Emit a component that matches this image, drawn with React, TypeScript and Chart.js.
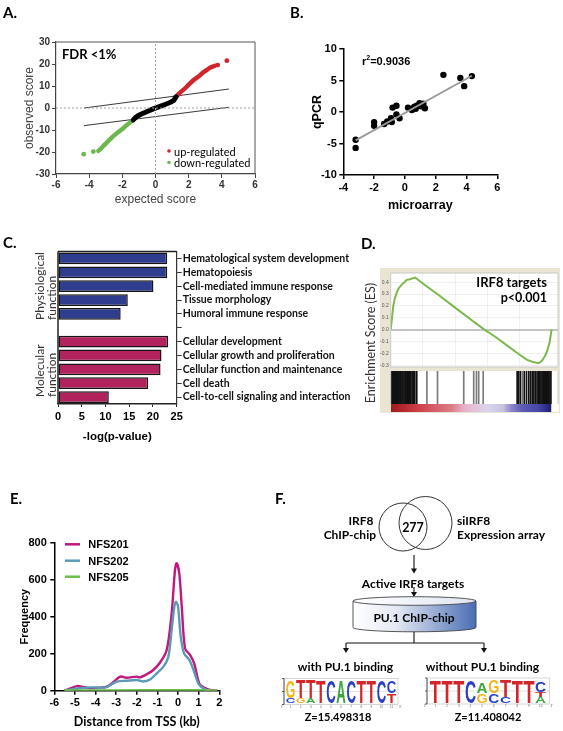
import React, { useEffect, useRef } from 'react';
import { Chart, registerables } from 'chart.js';

Chart.register(...registerables);

// ---------------- DATA ----------------
// A. Q-Q plot (expected score, observed score)
const qqUnchanged = [[-1.34, -5.4], [-1.2, -4.3], [-1.05, -3.5], [-0.85, -2.7], [-0.6, -1.9], [-0.35, -1.1], [-0.1, -0.3], [0.15, 0.4], [0.4, 1.1], [0.65, 1.8], [0.9, 2.6], [1.1, 3.5], [1.24, 5.1]];
const qqUp = [[1.24, 5.1], [1.4, 6.4], [1.6, 7.8], [1.78, 8.9], [2.0, 10.6], [2.28, 12.6], [2.5, 13.8], [2.7, 15.0], [2.88, 16.2], [3.1, 17.3], [3.28, 18.3], [3.45, 18.8], [3.58, 19.2]];
const qqUpSparse = [[3.75, 19.5], [4.3, 21.5]];
const qqDown = [[-1.34, -5.4], [-1.6, -7.0], [-1.8, -8.2], [-2.0, -9.6], [-2.3, -11.3], [-2.58, -13.0], [-2.8, -14.6], [-3.0, -16.2], [-3.15, -17.3], [-3.3, -18.6], [-3.45, -19.5]];
const qqDownSparse = [[-3.75, -19.8], [-4.33, -21.0]];
const deltaUpper = [[-4.3, 0], [4.4, 8.6]];
const deltaLower = [[-4.3, -8.0], [4.4, 0.3]];
const zeroH = [[-6, 0], [6, 0]];
const zeroV = [[0, -30], [0, 30]];

// B. qPCR vs microarray
const microarray = [-3.2, -3.2, -2.0, -2.0, -1.35, -1.15, -0.9, -0.85, -0.8, -0.55, -0.55, -0.35, 0.2, 0.45, 0.6, 0.7, 0.75, 0.95, 1.05, 1.2, 1.3, 2.5, 3.6, 3.85, 4.35];
const qpcr = [-4.4, -5.7, -1.6, -2.2, -1.9, -1.5, -1.0, -1.6, 0.7, 1.0, -0.4, -1.0, 0.7, 0.3, 0.8, 0.5, 1.0, 1.4, 0.9, 1.3, 0.6, 5.9, 5.4, 4.1, 5.7];
const fitLine = [[-3.2, -4.5], [4.35, 5.75]];

// C. Functional categories
const goTerms = ['Hematological system development', 'Hematopoiesis', 'Cell-mediated immune response', 'Tissue morphology', 'Humoral immune response', '', 'Cellular development', 'Cellular growth and proliferation', 'Cellular function and maintenance', 'Cell death', 'Cell-to-cell signaling and interaction'];
const goScores = [23.0, 23.0, 20.1, 14.7, 13.2, null, 23.2, 21.8, 21.6, 19.0, 10.7];
const goGroup = ['phys', 'phys', 'phys', 'phys', 'phys', '', 'mol', 'mol', 'mol', 'mol', 'mol'];

// D. GSEA running enrichment score (rank %, ES)
const esRank = [0, 0.8, 1.6, 2.5, 3.7, 5, 6.9, 8.5, 10, 12, 14, 15.2, 20, 30, 40, 50, 58.2, 65, 72, 78, 84.8, 88, 92, 94.2, 96, 97.3, 98.9, 100];
const esScore = [0, 0.1, 0.2, 0.26, 0.31, 0.35, 0.38, 0.4, 0.42, 0.425, 0.435, 0.44, 0.39, 0.29, 0.186, 0.084, 0, -0.06, -0.13, -0.19, -0.255, -0.27, -0.283, -0.26, -0.22, -0.18, -0.1, 0];
const coreHits = [0.6, 1.2, 1.8, 2.5, 3.1, 3.8, 4.4, 5.0, 5.7, 6.3, 7.0, 7.6, 8.3, 9.0, 9.6, 10.3, 11.0, 11.8, 12.5, 13.3, 14.0, 15.0, 16.2, 78.6, 79.5, 80.6, 83, 84.4, 85.8, 86.9, 88, 89, 90, 91, 92, 92.7, 93.4, 94.1, 94.8, 95.5, 96.2, 96.9, 97.6, 98.3, 99, 99.6];
const otherHits = [22.5, 29.1, 45.4, 51.6, 53.3, 54.7, 57.5, 81.8];

// E. Distance from TSS (kb) vs frequency
const nfs201X = [-5.5, -4.9, -4.6, -4.3, -3.5, -3.25, -2.8, -2.5, -2.0, -1.85, -1.5, -1.2, -0.88, -0.55, -0.31, -0.15, -0.07, 0.06, 0.18, 0.34, 0.58, 0.78, 1.04, 1.31, 1.55, 1.9];
const nfs201Y = [0, 25, 20, 14, 20, 36, 76, 70, 76, 72, 90, 112, 151, 220, 418, 652, 689, 634, 454, 229, 193, 148, 36, 14, 4, 0];
const nfs202X = [-5.5, -4.9, -4.3, -3.5, -2.97, -2.5, -2.0, -1.7, -1.35, -1.03, -0.71, -0.47, -0.31, -0.18, -0.1, 0, 0.13, 0.29, 0.55, 0.75, 1.0, 1.31, 1.55];
const nfs202Y = [0, 12, 18, 18, 49, 54, 58, 50, 61, 94, 130, 184, 328, 454, 481, 454, 292, 202, 166, 112, 36, 7, 0];
const nfs205X = [-5.5, -3, 0, 1.9];
const nfs205Y = [1, 2, 3, 1];

// F. motif logos (letter, fraction of column height, bottom-up)
const logoWithPU1 = [
  [['C', 0.22], ['G', 0.74]], [['G', 0.22], ['T', 0.78]], [['A', 0.22], ['T', 0.78]], [['T', 1]], [['C', 1]], [['A', 1]],
  [['C', 1]], [['T', 1]], [['T', 1]], [['C', 1]], [['T', 0.42], ['C', 0.5]],
];
const logoWithoutPU1 = [
  [['T', 1]], [['T', 1]], [['T', 1]], [['C', 1]], [['G', 0.4], ['A', 0.47]], [['C', 0.42], ['G', 0.56]],
  [['C', 0.26], ['T', 0.74]], [['T', 1]], [['T', 1]], [['A', 0.26], ['T', 0.2], ['C', 0.44]],
];

// ---------------- STYLE ----------------
const ARIAL = '"Liberation Sans", Arial, sans-serif';
const CAL = 'Lato, "Open Sans", sans-serif';
const RED = '#d0262c';
const GREEN = '#6cb84e';
const BLUE = '#2f3d8f';
const MAGENTA = '#b2235d';
const LETTER_COLORS = { G: '#f2b51c', T: '#d3262a', C: '#2a3ec6', A: '#3ca83c' };

const framePlugin = {
  id: 'frame',
  beforeDraw(chart, _a, o) {
    if (!o || !o.fill) return;
    const { ctx, chartArea: a } = chart;
    ctx.save();
    ctx.fillStyle = o.fill;
    ctx.fillRect(a.left, a.top, a.right - a.left, a.bottom - a.top);
    ctx.restore();
  },
  afterDraw(chart, _a, o) {
    if (!o || !o.sides) return;
    const { ctx, chartArea: a } = chart;
    const s = o.sides;
    ctx.save();
    ctx.lineWidth = o.width || 1;
    const seg = (c, x1, y1, x2, y2) => {
      if (!c) return;
      ctx.strokeStyle = c;
      ctx.beginPath();
      ctx.moveTo(x1, y1);
      ctx.lineTo(x2, y2);
      ctx.stroke();
    };
    seg(s.top, a.left, a.top, a.right, a.top);
    seg(s.right, a.right, a.top, a.right, a.bottom);
    seg(s.bottom, a.left, a.bottom, a.right, a.bottom);
    seg(s.left, a.left, a.top, a.left, a.bottom);
    ctx.restore();
  },
};
Chart.register(framePlugin);

const pts = (arr) => arr.map(([x, y]) => ({ x, y }));
const zip = (xs, ys) => xs.map((x, i) => ({ x, y: ys[i] }));

const base = (extra) => ({
  responsive: false,
  maintainAspectRatio: false,
  animation: false,
  devicePixelRatio: 1,
  events: [],
  plugins: { legend: { display: false }, tooltip: { enabled: false }, ...(extra || {}) },
});

const fixW = (w) => (s) => { s.width = w; };
const fixH = (h) => (s) => { s.height = h; };

function configA() {
  const line = (data, color, width, extra) => ({ data: pts(data), showLine: true, borderColor: color, borderWidth: width, pointRadius: 0, borderCapStyle: 'round', ...(extra || {}) });
  const dots = (data, color) => ({ data: pts(data), pointRadius: 2.4, backgroundColor: color, borderWidth: 0 });
  return {
    type: 'scatter',
    data: {
      datasets: [
        line(zeroH, '#a0a0a0', 1, { borderDash: [2, 2], borderCapStyle: 'butt' }),
        line(zeroV, '#a0a0a0', 1, { borderDash: [2, 2], borderCapStyle: 'butt' }),
        line(qqUnchanged, '#000', 5),
        line(qqUp, RED, 4.4),
        dots(qqUpSparse, RED),
        line(qqDown, GREEN, 4.4),
        dots(qqDownSparse, GREEN),
        line(deltaUpper, '#222', 0.9),
        line(deltaLower, '#222', 0.9),
      ],
    },
    options: {
      ...base({ frame: { sides: { top: '#555', right: '#555' }, width: 1 } }),
      layout: { padding: { left: 0, top: 12, right: 15, bottom: 0 } },
      scales: {
        x: {
          type: 'linear', min: -6, max: 6,
          ticks: { stepSize: 2, color: '#333', font: { family: ARIAL, size: 10, weight: 'bold' }, padding: 1 },
          grid: { drawOnChartArea: false, drawTicks: true, tickLength: 4, color: '#444' },
          border: { color: '#444', width: 1.2 },
          title: { display: true, text: 'expected score', color: '#444', font: { family: ARIAL, size: 12 }, padding: { bottom: 7.8, top: 0 } },
          afterFit: fixH(41),
        },
        y: {
          type: 'linear', min: -30, max: 30,
          ticks: { stepSize: 10, color: '#333', font: { family: ARIAL, size: 10, weight: 'bold' }, padding: 2 },
          grid: { drawOnChartArea: false, drawTicks: true, tickLength: 4, color: '#444' },
          border: { color: '#444', width: 1.2 },
          title: { display: true, text: 'observed score', color: '#444', font: { family: ARIAL, size: 12 }, padding: { top: 22, bottom: 0 } },
          afterFit: fixW(56),
        },
      },
    },
  };
}

function configB() {
  return {
    type: 'scatter',
    data: {
      datasets: [
        { data: pts(fitLine), showLine: true, borderColor: '#999', borderWidth: 1.8, pointRadius: 0 },
        { data: zip(microarray, qpcr), pointRadius: 3.2, backgroundColor: '#000', borderWidth: 0 },
      ],
    },
    options: {
      ...base(),
      layout: { padding: { left: 0, top: 19, right: 65.7, bottom: 0 } },
      scales: {
        x: {
          type: 'linear', min: -4, max: 6,
          ticks: { stepSize: 2, color: '#000', font: { family: ARIAL, size: 11, weight: 'bold' }, padding: 2.7 },
          grid: { drawOnChartArea: false, drawTicks: true, tickLength: 4, color: '#000', lineWidth: 1.5 },
          border: { color: '#000', width: 1.5 },
          title: { display: true, text: 'microarray', color: '#000', font: { family: ARIAL, size: 12.5, weight: 'bold' }, padding: { bottom: 7.2, top: 0 } },
          afterFit: fixH(45),
        },
        y: {
          type: 'linear', min: -10, max: 10,
          ticks: { stepSize: 5, color: '#000', font: { family: ARIAL, size: 11, weight: 'bold' }, padding: 2.5 },
          grid: { drawOnChartArea: false, drawTicks: true, tickLength: 4, color: '#000', lineWidth: 1.5 },
          border: { color: '#000', width: 1.5 },
          title: { display: true, text: 'qPCR', color: '#000', font: { family: ARIAL, size: 12.5, weight: 'bold' }, padding: { top: 20.5, bottom: 0 } },
          afterFit: fixW(53.3),
        },
      },
    },
  };
}

function configC() {
  return {
    type: 'bar',
    data: {
      labels: goTerms,
      datasets: [{
        data: goScores,
        backgroundColor: goGroup.map((g) => (g === 'phys' ? BLUE : MAGENTA)),
        borderColor: '#151515',
        borderWidth: 1.5,
        borderSkipped: false,
        barPercentage: 0.85,
        categoryPercentage: 1,
      }],
    },
    options: {
      ...base({ frame: { sides: { top: '#222', left: '#222' }, width: 1.5 } }),
      indexAxis: 'y',
      layout: { padding: { left: 58, top: 11.5, right: 0, bottom: 0 } },
      scales: {
        x: {
          type: 'linear', min: 0, max: 25, position: 'bottom',
          ticks: { stepSize: 5, color: '#000', font: { family: ARIAL, size: 11, weight: 'bold' }, padding: 3 },
          grid: { drawOnChartArea: false, drawTicks: true, tickLength: 3, color: '#222' },
          border: { color: '#222', width: 1.5 },
          title: { display: true, text: '-log(p-value)', color: '#000', font: { family: ARIAL, size: 11.5, weight: 'bold' }, padding: { bottom: 6, top: 0 } },
          afterFit: fixH(46),
        },
        y: {
          type: 'category', position: 'right',
          ticks: { color: '#111', font: { family: CAL, size: 10.5, weight: 'bold' }, padding: 1, autoSkip: false },
          grid: { drawOnChartArea: false, drawTicks: true, tickLength: 5, color: '#333', offset: false },
          border: { color: '#333', width: 1.2 },
          afterFit: fixW(183.3),
        },
      },
    },
  };
}

function configDes() {
  return {
    type: 'scatter',
    data: {
      datasets: [{ data: zip(esRank, esScore), showLine: true, borderColor: '#7cb84c', borderWidth: 2, pointRadius: 0 }],
    },
    options: {
      ...base({ frame: { fill: '#fff', sides: { top: '#c8c8c8', right: '#c8c8c8', left: '#c8c8c8', bottom: '#c8c8c8' }, width: 1 } }),
      layout: { padding: { left: 0, top: 3, right: 2, bottom: 2 } },
      scales: {
        x: {
          type: 'linear', min: 0, max: 104,
          ticks: { display: false, stepSize: 20 },
          grid: { drawTicks: false, color: '#ececec', lineWidth: 0.8 },
          border: { display: false },
          afterFit: fixH(0),
        },
        y: {
          type: 'linear', min: -0.315, max: 0.478,
          ticks: { stepSize: 0.1, includeBounds: false, color: '#555', font: { family: ARIAL, size: 5 }, padding: 2, callback: (v) => Number(v).toFixed(1) },
          grid: {
            drawTicks: false,
            color: (c) => (Math.abs(c.tick.value) < 1e-6 ? '#c4c4c4' : '#ececec'),
            lineWidth: (c) => (Math.abs(c.tick.value) < 1e-6 ? 2 : 0.8),
          },
          border: { display: false },
          afterFit: fixW(10.7),
        },
      },
    },
  };
}

function configDbar() {
  const hit = (arr, color) => ({
    data: arr.map((x) => ({ x, y: 1 })),
    backgroundColor: color,
    borderWidth: 0,
    barThickness: 1,
    grouped: false,
  });
  return {
    type: 'bar',
    data: { datasets: [hit(otherHits, '#7a7a7a'), hit(coreHits, '#111')] },
    options: {
      ...base({ frame: { fill: '#fff', sides: { left: '#c8c8c8', right: '#c8c8c8' }, width: 1 } }),
      layout: { padding: { left: 10.7, top: 1, right: 2, bottom: 1 } },
      scales: {
        x: { type: 'linear', min: 0, max: 104, display: false, offset: false },
        y: { type: 'linear', min: 0, max: 1, display: false },
      },
    },
  };
}

function configE() {
  const l = (xs, ys, color) => ({ data: zip(xs, ys), showLine: true, borderColor: color, borderWidth: 2.4, pointRadius: 0, tension: 0.3 });
  return {
    type: 'scatter',
    data: {
      datasets: [
        l(nfs205X, nfs205Y, '#6cc04a'),
        l(nfs202X, nfs202Y, '#5b9ab6'),
        l(nfs201X, nfs201Y, '#c2177c'),
      ],
    },
    options: {
      ...base(),
      layout: { padding: { left: 0, top: 22.7, right: 20.7, bottom: 0 } },
      scales: {
        x: {
          type: 'linear', min: -6, max: 2,
          ticks: { stepSize: 1, color: '#000', font: { family: ARIAL, size: 11, weight: 'bold' }, padding: 2 },
          grid: { drawOnChartArea: false, drawTicks: true, tickLength: 4, color: '#000', lineWidth: 1.5 },
          border: { color: '#000', width: 1.5 },
          title: { display: true, text: 'Distance from TSS (kb)', color: '#000', font: { family: CAL, size: 12.5, weight: 'bold' }, padding: { bottom: 1.5, top: 0 } },
          afterFit: fixH(40.3),
        },
        y: {
          type: 'linear', min: 0, max: 800,
          ticks: { stepSize: 200, color: '#000', font: { family: ARIAL, size: 11, weight: 'bold' }, padding: 3.5 },
          grid: { drawOnChartArea: false, drawTicks: true, tickLength: 4, color: '#000', lineWidth: 1.5 },
          border: { color: '#000', width: 1.5 },
          title: { display: true, text: 'Frequency', color: '#000', font: { family: ARIAL, size: 11, weight: 'bold' }, padding: { top: 18.4, bottom: 0 } },
          afterFit: fixW(54.3),
        },
      },
    },
  };
}

function ChartBox({ x, y, w, h, make }) {
  const ref = useRef(null);
  useEffect(() => {
    const chart = new Chart(ref.current, make());
    return () => chart.destroy();
  }, []);
  return <canvas ref={ref} width={w} height={h} style={{ position: 'absolute', left: x, top: y, width: w, height: h }} />;
}

function T({ x, y, children, size = 12, weight = 'normal', family = CAL, anchor = 'start', fill = '#000', rotate = 0 }) {
  return (
    <text x={x} y={y} fontSize={size} fontWeight={weight} fontFamily={family} textAnchor={anchor} dominantBaseline="central" fill={fill}
      transform={rotate ? `rotate(${rotate} ${x} ${y})` : undefined}>{children}</text>
  );
}

function Logo({ cols, left, top, width, height, colLeft, colW }) {
  const bottom = top + height;
  const letters = [];
  cols.forEach((stack, i) => {
    let yb = bottom - 1.5;
    const x0 = colLeft + i * colW;
    const full = height - 3;
    stack.forEach(([ch, frac], j) => {
      const hh = frac * full;
      const k = hh / 14.4;
      letters.push(
        <text key={`${i}-${j}`} x={0} y={0} fontSize={20} fontFamily={ARIAL} fontWeight="bold" fill={LETTER_COLORS[ch]}
          textLength={colW - 0.6} lengthAdjust="spacingAndGlyphs" transform={`translate(${x0 + 0.3} ${yb}) scale(1 ${k})`}>{ch}</text>
      );
      yb -= hh;
    });
  });
  const nums = cols.map((_, i) => (
    <text key={`n${i}`} x={colLeft + i * colW + colW / 2} y={bottom + 3} fontSize={3} fontFamily={ARIAL} fill="#666" textAnchor="middle">{i + 1}</text>
  ));
  return (
    <g>
      <rect x={left} y={top} width={width} height={height} fill="#fff" stroke="#bbb" strokeWidth={0.6} />
      <line x1={left} y1={top + height / 2} x2={left + width} y2={top + height / 2} stroke="#ccc" strokeWidth={0.6} />
      <line x1={left} y1={top} x2={left} y2={bottom} stroke="#333" strokeWidth={0.8} />
      <line x1={left - 2} y1={top} x2={left} y2={top} stroke="#333" strokeWidth={0.8} />
      <line x1={left - 2} y1={top + height / 2} x2={left} y2={top + height / 2} stroke="#333" strokeWidth={0.8} />
      <line x1={left - 2} y1={bottom} x2={left} y2={bottom} stroke="#333" strokeWidth={0.8} />
      {letters}
      {nums}
      <text x={left - 1} y={bottom + 3} fontSize={3} fontFamily={ARIAL} fill="#666" textAnchor="end">5′</text>
      <text x={left + width + 1} y={bottom + 3} fontSize={3} fontFamily={ARIAL} fill="#666">3′</text>
    </g>
  );
}

function Arrow({ x, y1, y2 }) {
  return (
    <g>
      <line x1={x} y1={y1} x2={x} y2={y2 - 4} stroke="#111" strokeWidth={1.1} />
      <polygon points={`${x - 3},${y2 - 5} ${x + 3},${y2 - 5} ${x},${y2}`} fill="#111" />
    </g>
  );
}

export default function App() {
  useEffect(() => { document.body.style.margin = '0'; }, []);
  const cylL = 353, cylR = 476, cyT = 601, cyB = 627.5, ry = 4.3;
  const cx = (cylL + cylR) / 2, rx = (cylR - cylL) / 2;
  return (
    <div style={{ position: 'absolute', left: 0, top: 0, width: 563, height: 731, background: '#fff', overflow: 'hidden' }}>
      <ChartBox x={0} y={30} w={270} h={185} make={configA} />
      <ChartBox x={290} y={30} w={273} h={190} make={configB} />
      <ChartBox x={0} y={240} w={360} h={210} make={configC} />
      <div style={{ position: 'absolute', left: 380, top: 268, width: 180, height: 145, background: '#e9e5d2' }} />
      <ChartBox x={380} y={268} w={180} h={104} make={configDes} />
      <ChartBox x={380} y={370} w={180} h={35} make={configDbar} />
      <div style={{
        position: 'absolute', left: 390.7, top: 404, width: 160.3, height: 8,
        background: 'linear-gradient(to right, #9c1c20 0%, #b8282e 8%, #cf434b 18%, #d65f6b 28%, #dc7e86 38%, #e7b2cb 46%, #e5c4dc 53%, #d9d5ec 60%, #c8c2e2 70%, #8e89c8 75%, #5b5bb4 82%, #4646a8 92%, #1e1e78 100%)',
      }} />
      <div style={{ position: 'absolute', left: 551, top: 404, width: 7, height: 8, background: '#fff', borderLeft: '1px solid #ccc' }} />
      <ChartBox x={0} y={520} w={240} h={211} make={configE} />

      <svg width={563} height={731} style={{ position: 'absolute', left: 0, top: 0 }}>
        <defs>
          <linearGradient id="cylGrad" x1="0" y1="0" x2="1" y2="0">
            <stop offset="0" stopColor="#ffffff" />
            <stop offset="0.35" stopColor="#e4e9f3" />
            <stop offset="1" stopColor="#4a6db3" />
          </linearGradient>
          <linearGradient id="cylTop" x1="0" y1="0" x2="1" y2="0">
            <stop offset="0" stopColor="#ffffff" />
            <stop offset="1" stopColor="#dfe5f1" />
          </linearGradient>
        </defs>

        {/* panel labels */}
        <T x={3} y={12} size={15} weight="bold">A.</T>
        <T x={290} y={12} size={15} weight="bold">B.</T>
        <T x={3} y={242} size={15} weight="bold">C.</T>
        <T x={361} y={243} size={15} weight="bold">D.</T>
        <T x={10} y={498} size={15} weight="bold">E.</T>
        <T x={275} y={498} size={15} weight="bold">F.</T>

        {/* A annotations */}
        <T x={62} y={54} size={13} weight="bold">FDR &lt;1%</T>
        <circle cx={169} cy={151} r={1.8} fill={RED} />
        <T x={174} y={151} size={11}>up-regulated</T>
        <circle cx={169} cy={162.5} r={1.8} fill={GREEN} />
        <T x={174} y={162.5} size={11}>down-regulated</T>

        {/* B annotation */}
        <text x={362} y={61} fontSize={11} fontWeight="bold" fontFamily={ARIAL} dominantBaseline="central">r<tspan fontSize={7} dy={-4}>2</tspan><tspan dy={4}>=0.9036</tspan></text>

        {/* C group labels */}
        <T x={39} y={320} size={12} rotate={-90} fill="#333">Physiological</T>
        <T x={51} y={320} size={12} rotate={-90} fill="#333">function</T>
        <T x={39} y={397} size={12} rotate={-90} fill="#333">Molecular</T>
        <T x={51} y={397} size={12} rotate={-90} fill="#333">function</T>

        {/* D annotations */}
        <T x={370} y={343} size={12.5} rotate={-90} anchor="middle" fill="#333">Enrichment Score (ES)</T>
        <T x={547} y={282} size={13} weight="bold" anchor="end">IRF8 targets</T>
        <T x={547} y={297.5} size={12.5} weight="bold" anchor="end">p&lt;0.001</T>

        {/* E legend */}
        <line x1={65} y1={544.3} x2={80} y2={544.3} stroke="#c2177c" strokeWidth={2.5} />
        <T x={88.3} y={544.3} size={11} weight="bold" family={ARIAL}>NFS201</T>
        <line x1={65} y1={560.7} x2={80} y2={560.7} stroke="#5b9ab6" strokeWidth={2.5} />
        <T x={88.3} y={560.7} size={11} weight="bold" family={ARIAL}>NFS202</T>
        <line x1={65} y1={576.7} x2={80} y2={576.7} stroke="#6cc04a" strokeWidth={2.5} />
        <T x={88.3} y={576.7} size={11} weight="bold" family={ARIAL}>NFS205</T>

        {/* F diagram */}
        <circle cx={403} cy={527} r={24} fill="none" stroke="#333" strokeWidth={1} />
        <circle cx={425.5} cy={523} r={26.5} fill="none" stroke="#333" strokeWidth={1} />
        <T x={413} y={527} size={12.5} weight="bold" anchor="middle">277</T>
        <T x={361} y={520} size={12} weight="bold" anchor="middle">IRF8</T>
        <T x={376} y={534} size={12} weight="bold" anchor="end">ChIP-chip</T>
        <T x={457} y={520} size={12} weight="bold">siIRF8</T>
        <T x={457} y={534} size={12} weight="bold">Expression array</T>
        <Arrow x={414} y1={555} y2={573.5} />
        <T x={413} y={583.5} size={12} weight="bold" anchor="middle">Active IRF8 targets</T>
        <Arrow x={414} y1={587} y2={597} />
        <path d={`M ${cylL} ${cyT} L ${cylL} ${cyB} A ${rx} ${ry} 0 0 0 ${cylR} ${cyB} L ${cylR} ${cyT} Z`} fill="url(#cylGrad)" stroke="#444" strokeWidth={0.9} />
        <ellipse cx={cx} cy={cyT} rx={rx} ry={ry} fill="url(#cylTop)" stroke="#444" strokeWidth={0.9} />
        <T x={414} y={617} size={12} weight="bold" anchor="middle">PU.1 ChIP-chip</T>
        <line x1={414} y1={cyB + ry} x2={414} y2={643} stroke="#111" strokeWidth={1.1} />
        <line x1={346} y1={643} x2={484} y2={643} stroke="#111" strokeWidth={1.1} />
        <Arrow x={346} y1={643} y2={653} />
        <Arrow x={484} y1={643} y2={653} />
        <T x={345.5} y={666.5} size={12} weight="bold" anchor="middle">with PU.1 binding</T>
        <T x={482.5} y={666.5} size={12} weight="bold" anchor="middle">without PU.1 binding</T>
        <Logo cols={logoWithPU1} left={284} top={678.5} width={114} height={26} colLeft={285.5} colW={10.1} />
        <Logo cols={logoWithoutPU1} left={427} top={678} width={122.5} height={26} colLeft={429.5} colW={11.7} />
        <T x={338} y={716} size={11} weight="bold" anchor="middle">Z=15.498318</T>
        <T x={488} y={716} size={11} weight="bold" anchor="middle">Z=11.408042</T>
      </svg>
    </div>
  );
}
